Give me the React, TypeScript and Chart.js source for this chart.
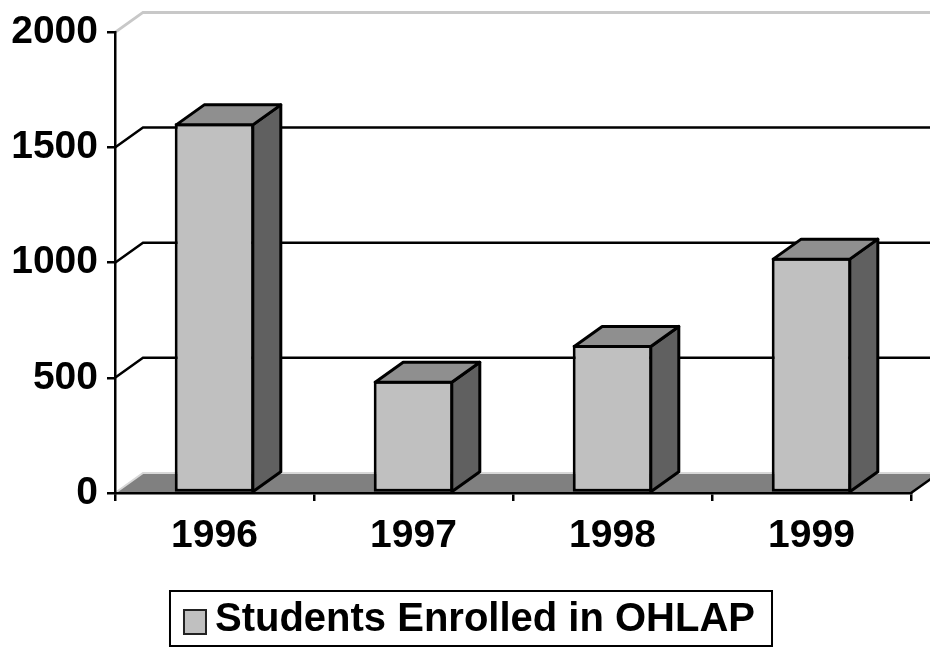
import React, { useEffect, useRef } from 'react';
import { Chart, registerables } from 'chart.js';

Chart.register(...registerables);

// ---- data ----
const categories: string[] = ['1996', '1997', '1998', '1999'];
const enrolled: number[] = [1605, 487, 643, 1022];
const seriesLabel = 'Students Enrolled in OHLAP';
const yMin = 0;
const yMax = 2000;
const yStep = 500;

// ---- style ----
const FONT = "'Liberation Sans', Arial, Helvetica, sans-serif";
const DX = 28;
const DY = 20;
const FRONT = '#C0C0C0';
const SIDE = '#606060';
const TOP = '#8F8F8F';
const FLOOR = '#808080';

const threeD = {
  id: 'threeD',
  beforeDraw(chart: any) {
    const { ctx, chartArea: a, scales } = chart;
    const ys = scales.y;
    ctx.save();
    // floor
    ctx.fillStyle = FLOOR;
    ctx.beginPath();
    ctx.moveTo(a.left, a.bottom);
    ctx.lineTo(a.right, a.bottom);
    ctx.lineTo(a.right + DX, a.bottom - DY);
    ctx.lineTo(a.left + DX, a.bottom - DY);
    ctx.closePath();
    ctx.fill();
    // floor light edges
    ctx.strokeStyle = '#D8D8D8';
    ctx.lineWidth = 2;
    ctx.beginPath();
    ctx.moveTo(a.left, a.bottom);
    ctx.lineTo(a.left + DX, a.bottom - DY);
    ctx.lineTo(a.right + DX, a.bottom - DY);
    ctx.stroke();
    // floor right edge
    ctx.strokeStyle = '#000';
    ctx.lineWidth = 2.5;
    ctx.beginPath();
    ctx.moveTo(a.right, a.bottom);
    ctx.lineTo(a.right + DX, a.bottom - DY);
    ctx.stroke();
    // wall gridlines
    ys.ticks.forEach((t: any) => {
      const v = t.value;
      if (v === yMin) return;
      const py = ys.getPixelForValue(v);
      if (v === yMax) {
        ctx.strokeStyle = '#C8C8C8';
        ctx.lineWidth = 3;
      } else {
        ctx.strokeStyle = '#000';
        ctx.lineWidth = 2.5;
      }
      ctx.beginPath();
      ctx.moveTo(a.left, py);
      ctx.lineTo(a.left + DX, py - DY);
      ctx.lineTo(a.right + DX, py - DY);
      ctx.stroke();
    });
    ctx.restore();
  },
  afterDatasetsDraw(chart: any) {
    const { ctx } = chart;
    const meta = chart.getDatasetMeta(0);
    ctx.save();
    ctx.strokeStyle = '#000';
    ctx.lineWidth = 3;
    ctx.lineJoin = 'round';
    meta.data.forEach((bar: any) => {
      const { x, y, base, width } = bar.getProps(['x', 'y', 'base', 'width'], true);
      const l = x - width / 2 + 1.5;
      const r = x + width / 2 - 1.5;
      const t = y + 1.5;
      const b = base;
      // side face
      ctx.fillStyle = SIDE;
      ctx.beginPath();
      ctx.moveTo(r, t);
      ctx.lineTo(r + DX, t - DY);
      ctx.lineTo(r + DX, b - DY);
      ctx.lineTo(r, b);
      ctx.closePath();
      ctx.fill();
      ctx.stroke();
      // top face
      ctx.fillStyle = TOP;
      ctx.beginPath();
      ctx.moveTo(l, t);
      ctx.lineTo(l + DX, t - DY);
      ctx.lineTo(r + DX, t - DY);
      ctx.lineTo(r, t);
      ctx.closePath();
      ctx.fill();
      ctx.stroke();
    });
    ctx.restore();
  },
  afterDraw(chart: any) {
    const { ctx } = chart;
    const lg = chart.legend;
    if (!lg || !lg.legendHitBoxes || !lg.legendHitBoxes.length) return;
    const hit = lg.legendHitBoxes[0];
    ctx.save();
    // legend frame
    ctx.strokeStyle = '#000';
    ctx.lineWidth = 2;
    ctx.strokeRect(hit.left - 13, hit.top - 9, hit.width + 30, 55);
    // legend swatch
    ctx.fillStyle = FRONT;
    ctx.fillRect(hit.left + 1, hit.top + 10, 22, 24);
    ctx.lineWidth = 2;
    ctx.strokeStyle = '#222';
    ctx.strokeRect(hit.left + 1, hit.top + 10, 22, 24);
    ctx.restore();
  },
};

export default function App() {
  const ref = useRef<HTMLCanvasElement | null>(null);
  useEffect(() => {
    if (!ref.current) return;
    Chart.defaults.font.family = FONT;
    const chart = new Chart(ref.current, {
      type: 'bar',
      data: {
        labels: categories,
        datasets: [
          {
            label: seriesLabel,
            data: enrolled,
            backgroundColor: FRONT,
            borderColor: '#000',
            borderWidth: 3,
            borderSkipped: false,
            barPercentage: 0.4,
            categoryPercentage: 1,
          },
        ],
      },
      options: {
        responsive: false,
        animation: false,
        devicePixelRatio: 1,
        events: [],
        layout: { padding: { left: 8, right: 0, top: 31, bottom: 0 } },
        scales: {
          x: {
            offset: true,
            grid: {
              offset: true,
              drawOnChartArea: false,
              drawTicks: true,
              tickLength: 8,
              color: '#000',
              lineWidth: 2.5,
            },
            border: { display: true, color: '#000', width: 2.5 },
            ticks: {
              color: '#000',
              font: { size: 39, weight: 'bold', family: FONT },
              padding: 12,
              maxRotation: 0,
              autoSkip: false,
            },
            afterFit: (s: any) => {
              s.height = 97;
            },
          },
          y: {
            min: yMin,
            max: yMax,
            grid: {
              drawOnChartArea: false,
              drawTicks: true,
              tickLength: 8,
              color: '#000',
              lineWidth: 2.5,
            },
            border: { display: true, color: '#000', width: 2.5 },
            ticks: {
              stepSize: yStep,
              color: '#000',
              font: { size: 39, weight: 'bold', family: FONT },
              padding: 9,
              callback: (v: any) => String(v),
            },
            afterFit: (s: any) => {
              s.width = 107;
            },
          },
          depth: {
            type: 'linear',
            position: 'right',
            display: true,
            grid: { display: false, drawTicks: false },
            border: { display: false },
            ticks: { display: false },
            afterFit: (s: any) => {
              s.width = 19;
            },
          },
        },
        plugins: {
          tooltip: { enabled: false },
          legend: {
            display: true,
            position: 'bottom',
            labels: {
              color: '#000',
              font: { size: 40, weight: 'bold', family: FONT },
              boxWidth: 12,
              boxHeight: 25,
              padding: 10,
              generateLabels: (c: any) =>
                c.data.datasets.map((d: any, i: number) => ({
                  text: d.label,
                  fillStyle: 'rgba(0,0,0,0)',
                  strokeStyle: 'rgba(0,0,0,0)',
                  lineWidth: 0,
                  hidden: false,
                  datasetIndex: i,
                  fontColor: '#000',
                })),
            },
          },
        },
      },
      plugins: [threeD],
    } as any);
    return () => chart.destroy();
  }, []);
  return (
    <div style={{ position: 'absolute', left: 0, top: 0, width: 930, height: 650 }}>
      <canvas ref={ref} width={930} height={650} style={{ display: 'block' }} />
    </div>
  );
}
